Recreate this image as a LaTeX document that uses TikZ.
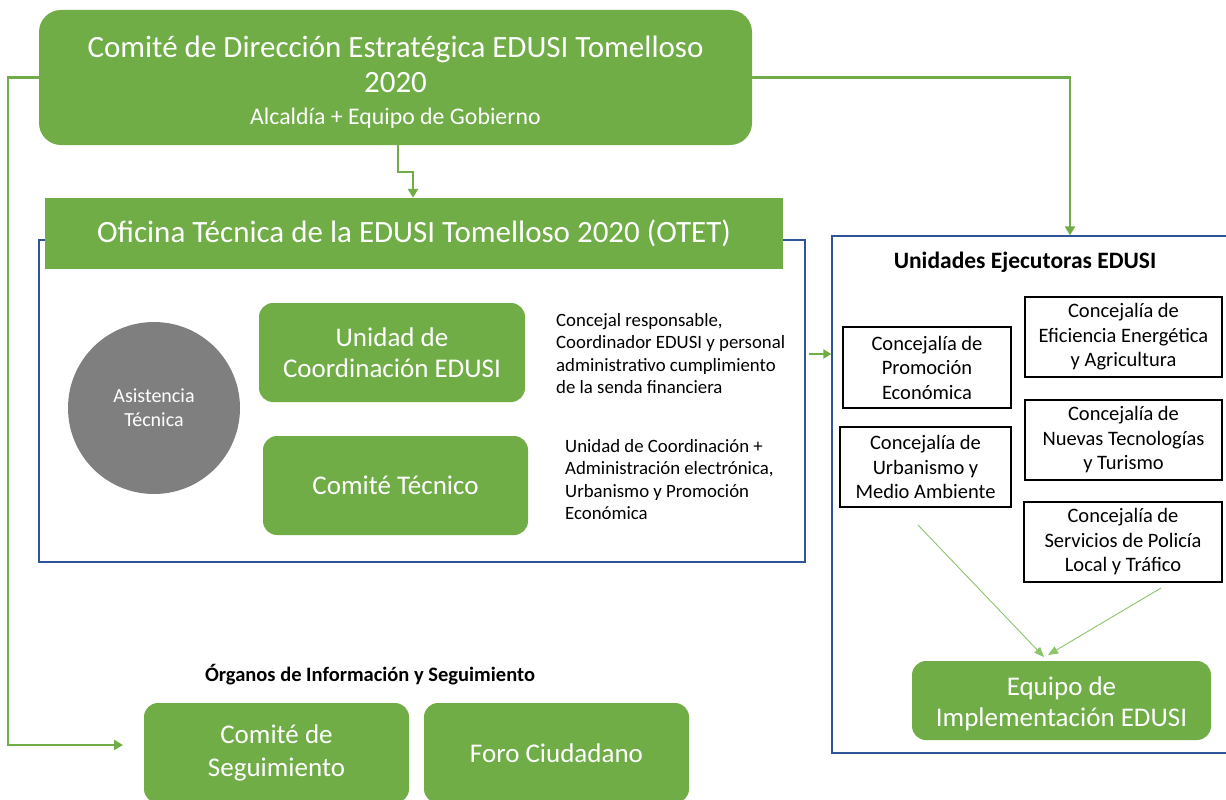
\documentclass[tikz,border=0pt]{standalone}
\usepackage{fontspec}
\setmainfont{Carlito}
\usetikzlibrary{arrows.meta,positioning,calc}
\definecolor{gr}{HTML}{70AD47}
\definecolor{grl}{HTML}{8CC46A}
\definecolor{gy}{HTML}{7F7F7F}
\definecolor{bl}{HTML}{2F5597}
\tikzset{
  gbox/.style={fill=gr,draw=none,text=white,align=center,inner sep=0pt},
  rbox/.style={gbox,rounded corners=14pt},
  frame/.style={draw=bl,line width=1.3pt,fill=none,inner sep=0pt},
  cbox/.style={draw=black,line width=1.2pt,fill=white,align=center,inner sep=0pt,font=\fontsize{20.5}{24.5}\selectfont},
  conn/.style={draw=gr,line width=2.2pt,-{Triangle[length=9pt,width=10pt]}},
  thin/.style={draw=grl,line width=0.9pt,-{Triangle[length=10pt,width=8pt]}},
  side/.style={align=left,inner sep=0pt,font=\fontsize{18.8}{22.5}\selectfont,anchor=north west},
}
\begin{document}
\begin{tikzpicture}[x=1pt,y=-1pt]
\useasboundingbox (0,0) rectangle (1226,800);
% frames
\node[frame,minimum width=766pt,minimum height=322pt] (otetf) at (422,401) {};
\node[frame,minimum width=396pt,minimum height=517pt] (uef) at (1030,494.5) {};
% top box
\node[rbox,rounded corners=22pt,minimum width=713pt,minimum height=135pt,font=\fontsize{31}{35}\selectfont] (top) at (395.5,77.5)
  {\rule{0pt}{31pt}Comité de Dirección Estratégica EDUSI Tomelloso\\2020\\[-3pt]{\fontsize{23.8}{26}\selectfont Alcaldía + Equipo de Gobierno}};
% OTET header
\node[gbox,minimum width=738pt,minimum height=71pt,font=\fontsize{31}{35}\selectfont] (otet) at (414,233.5)
  {Oficina Técnica de la EDUSI Tomelloso 2020 (OTET)};
% circle
\node[circle,fill=gy,minimum size=172pt,inner sep=0pt,text=white,align=center,font=\fontsize{20}{24}\selectfont] (asis) at (154,408) {Asistencia\\Técnica};
% green rounded boxes
\node[rbox,minimum width=266pt,minimum height=99pt,font=\fontsize{27}{31}\selectfont] (ucoord) at (392,352.5) {Unidad de\\Coordinación EDUSI};
\node[rbox,minimum width=265pt,minimum height=99pt,font=\fontsize{27}{31}\selectfont] (ctec) at (395.5,485.5) {Comité Técnico};
\node[side] (t1) at (556,313) {Concejal responsable,\\Coordinador EDUSI y personal\\administrativo cumplimiento\\de la senda financiera};
\node[side] (t2) at (565,439) {Unidad de Coordinación +\\Administración electrónica,\\Urbanismo y Promoción\\Económica};
% Unidades ejecutoras
\node[font=\bfseries\fontsize{23.5}{26}\selectfont,inner sep=0pt] (uetit) at (1025,262) {Unidades Ejecutoras EDUSI};
\node[cbox,minimum width=168pt,minimum height=81pt] (prom) at (927,367.5) {Concejalía de\\Promoción\\Económica};
\node[cbox,minimum width=197pt,minimum height=80pt] (efic) at (1123.5,337) {Concejalía de\\Eficiencia Energética\\y Agricultura};
\node[cbox,minimum width=171pt,minimum height=80pt] (urb) at (925.5,467) {Concejalía de\\Urbanismo y\\Medio Ambiente};
\node[cbox,minimum width=197pt,minimum height=80pt] (nuev) at (1123.5,440) {Concejalía de\\Nuevas Tecnologías\\y Turismo};
\node[cbox,minimum width=198pt,minimum height=80pt] (pol) at (1123,542) {Concejalía de\\Servicios de Policía\\Local y Tráfico};
\node[rbox,minimum width=299pt,minimum height=79pt,font=\fontsize{27}{31}\selectfont] (equipo) at (1061.5,700.5) {\rule{0pt}{26pt}Equipo de\\Implementación EDUSI};
% organos
\node[font=\bfseries\fontsize{20.5}{24}\selectfont,inner sep=0pt] (orgtit) at (370,675) {Órganos de Información y Seguimiento};
\node[rbox,minimum width=265pt,minimum height=100pt,font=\fontsize{27}{33}\selectfont] (cseg) at (276.5,753) {Comité de\\Seguimiento};
\node[rbox,minimum width=265pt,minimum height=100pt,font=\fontsize{27}{33}\selectfont] (foro) at (556.5,753) {Foro Ciudadano};
% connectors
\coordinate (segin) at (123,745);
\draw[conn] (top.south -| 398,0) -- (398,172) -- (413,172) -- (otet.north -| 413,0);
\draw[conn] (top.west) -- (8,77.5) |- (segin);
\draw[conn] (top.east) -| (uef.north -| 1070,0);
\draw[conn,line width=2pt,-{Triangle[length=8pt,width=9pt]}] (otetf.east |- 0,354) ++(3pt,0) -- (uef.west |- 0,354);
\coordinate (d1) at (918,525);
\coordinate (d2) at (1161,588);
\draw[thin] (d1) -- (1044,657);
\draw[thin] (d2) -- (1048,655);
\end{tikzpicture}
\end{document}
